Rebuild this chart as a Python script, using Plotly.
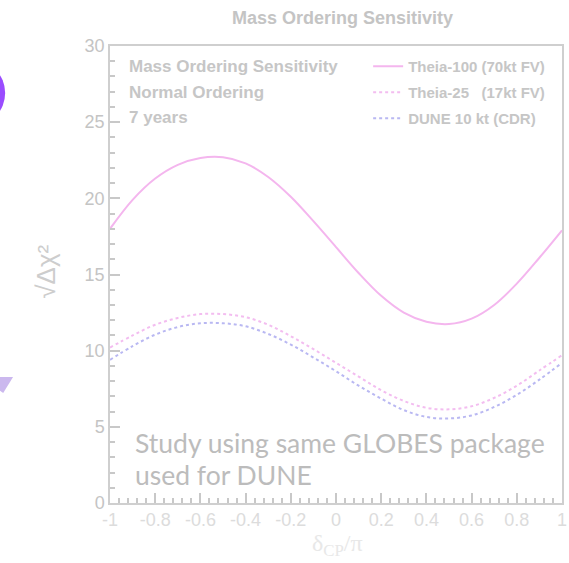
import plotly.graph_objects as go

# delta_CP / pi sample points
delta_cp = [-1.0, -0.9, -0.8, -0.7, -0.6, -0.5, -0.4, -0.3, -0.2, -0.1, 0.0,
            0.1, 0.2, 0.3, 0.4, 0.5, 0.6, 0.7, 0.8, 0.9, 1.0]

# sqrt(delta chi^2) for each configuration
theia100 = [18.0, 19.9, 21.3, 22.2, 22.65, 22.7, 22.3, 21.4, 20.1, 18.5, 16.8,
            15.1, 13.6, 12.5, 11.9, 11.75, 12.1, 13.0, 14.4, 16.1, 17.9]
theia25 = [10.2, 11.0, 11.7, 12.15, 12.4, 12.4, 12.2, 11.7, 10.95, 10.1, 9.2,
           8.3, 7.4, 6.7, 6.25, 6.15, 6.35, 6.9, 7.7, 8.7, 9.7]
dune10 = [9.4, 10.3, 11.05, 11.55, 11.8, 11.8, 11.6, 11.1, 10.4, 9.55, 8.65,
          7.7, 6.85, 6.1, 5.65, 5.55, 5.75, 6.3, 7.1, 8.1, 9.2]

series_names = ["Theia-100 (70kt FV)", "Theia-25\u00a0\u00a0\u00a0(17kt FV)", "DUNE 10 kt (CDR)"]
info_lines = ["Mass Ordering Sensitivity", "Normal Ordering", "7 years"]
x_ticks = [-1, -0.8, -0.6, -0.4, -0.2, 0, 0.2, 0.4, 0.6, 0.8, 1]
x_tick_text = ["-1", "-0.8", "-0.6", "-0.4", "-0.2", "0", "0.2", "0.4", "0.6", "0.8", "1"]

W, H = 569, 563
L, R, T, B = 110, 2, 46, 60
PW, PH = W - L - R, H - T - B


def px(xp):
    return (xp - L) / PW


def py(yp):
    return (H - B - yp) / PH


GRAY = "#c6c6c6"
SANS = "Liberation Sans, Arial, sans-serif"

fig = go.Figure()
fig.add_trace(go.Scatter(x=delta_cp, y=theia100, mode="lines", name="<b>%s</b>" % series_names[0],
                         line=dict(color="#f4b6ee", width=2, shape="spline"),
                         legendgroup="a"))
fig.add_trace(go.Scatter(x=delta_cp, y=theia25, mode="lines", name="<b>%s</b>" % series_names[1],
                         line=dict(color="#f3bdf0", width=2, dash="3px,3px", shape="spline"),
                         legendgroup="b"))
fig.add_trace(go.Scatter(x=delta_cp, y=dune10, mode="lines", name="<b>%s</b>" % series_names[2],
                         line=dict(color="#b9b8f2", width=2, dash="3px,3px", shape="spline"),
                         legendgroup="c"))

annotations = [
    dict(text="<b>Mass Ordering Sensitivity</b>", x=px(345), y=py(18), xref="paper", yref="paper",
         showarrow=False, font=dict(family=SANS, size=18, color="#c4c4c4"),
         xanchor="center", yanchor="middle"),
    dict(text="\u221a\u0394\u03c7\u00b2", x=px(45), y=py(272), xref="paper", yref="paper",
         showarrow=False, textangle=-90, font=dict(family=SANS, size=26, color="#cdcdcd"),
         xanchor="center", yanchor="middle"),
    dict(text="\u03b4<sub>CP</sub>/\u03c0", x=px(340), y=py(545), xref="paper", yref="paper",
         showarrow=False, font=dict(family="Liberation Serif, serif", size=24, color="#e8e8e8"),
         xanchor="center", yanchor="middle"),
    dict(text="Study using same GLOBES package", x=px(133), y=py(443), xref="paper", yref="paper",
         showarrow=False, font=dict(family="Lato, sans-serif", size=26.5, color="#bcbcbc"),
         xanchor="left", yanchor="middle"),
    dict(text="used for DUNE", x=px(133), y=py(475), xref="paper", yref="paper",
         showarrow=False, font=dict(family="Lato, sans-serif", size=26.5, color="#bcbcbc"),
         xanchor="left", yanchor="middle"),
]
for i, line in enumerate(info_lines):
    annotations.append(dict(text="<b>%s</b>" % line, x=px(127), y=py(66 + 26 * i),
                            xref="paper", yref="paper", showarrow=False,
                            font=dict(family=SANS, size=17, color=GRAY),
                            xanchor="left", yanchor="middle"))

# slide decorations at the left edge
shapes = [
    dict(type="circle", xref="paper", yref="paper", x0=px(-62), x1=px(4), y0=py(126), y1=py(60),
         fillcolor="#9a4cff", line=dict(width=0), layer="above"),
    dict(type="path", xref="paper", yref="paper",
         path="M %f %f L %f %f L %f %f Z" % (px(-20), py(377), px(12), py(377), px(2), py(393)),
         fillcolor="#cbb8ee", line=dict(width=0), layer="above"),
]

axis_common = dict(showline=True, linecolor="#cfcfcf", linewidth=1.5, mirror=True,
                   ticks="inside", tickcolor="#c8c8c8", tickwidth=1.5, ticklen=10,
                   showgrid=False, zeroline=False)

fig.update_layout(
    width=W, height=H,
    margin=dict(l=L, r=R, t=T, b=B, pad=0),
    paper_bgcolor="white", plot_bgcolor="white",
    xaxis=dict(range=[-1, 1], tickvals=x_ticks, ticktext=x_tick_text,
               ticklabeloverflow="allow",
               tickfont=dict(family=SANS, size=18, color="#dcdcdc"),
               minor=dict(dtick=0.04, ticks="inside", ticklen=5, tickcolor="#c8c8c8", tickwidth=1.5),
               **axis_common),
    yaxis=dict(range=[0, 30], dtick=5,
               tickfont=dict(family=SANS, size=18, color="#c4c4c4"),
               minor=dict(dtick=1, ticks="inside", ticklen=5, tickcolor="#c8c8c8", tickwidth=1.5),
               **axis_common),
    showlegend=True,
    legend=dict(x=px(371), y=py(50), xanchor="left", yanchor="top",
                bgcolor="rgba(0,0,0,0)", borderwidth=0, tracegroupgap=3.5,
                font=dict(family=SANS, size=15, color=GRAY)),
    annotations=annotations,
    shapes=shapes,
)

fig.write_html("out.html")
